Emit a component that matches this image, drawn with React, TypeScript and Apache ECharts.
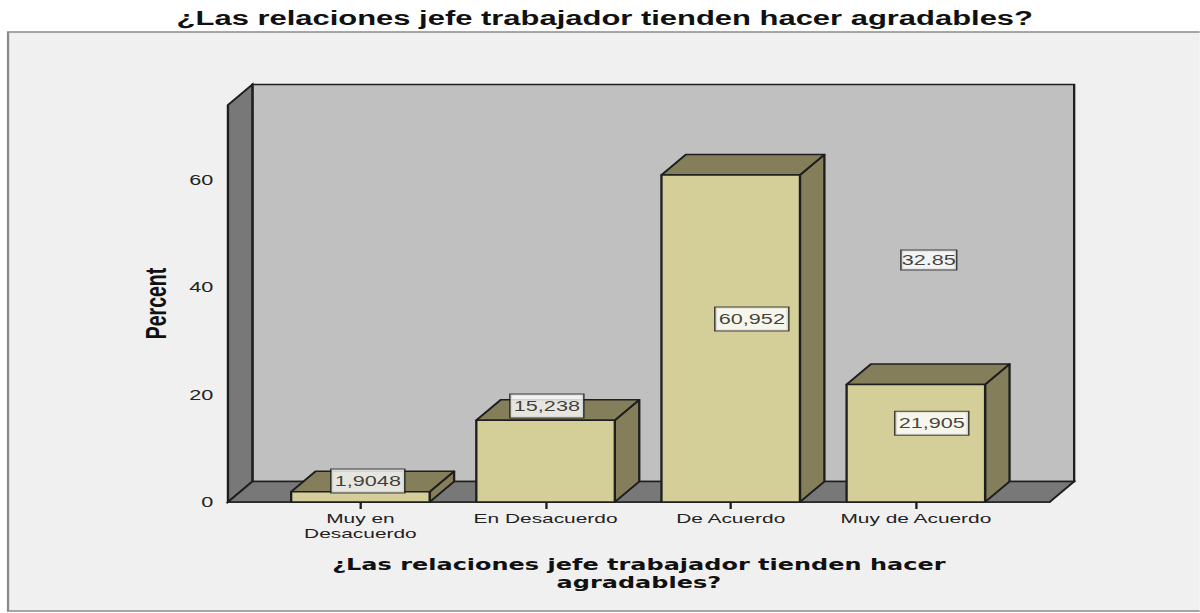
import React, { useEffect, useRef } from 'react';
import * as echarts from 'echarts';

// ---- data ----
const categories = ['Muy en\nDesacuerdo', 'En Desacuerdo', 'De Acuerdo', 'Muy de Acuerdo'];
const percents = [1.9048, 15.238, 60.952, 21.905];
// where SPSS placed each value box (category index, percent)
const labelX = [0.04, 1.007, 2.114, 3.086];
const labelY = [3.9, 17.9, 34.1, 14.7];
const strayLabelText = '32.85';
const strayLabelPos = [3.07, 45.1];
const yTicks = [0, 20, 40, 60];
const Y_MAX = 74;
const titleText = '¿Las relaciones jefe trabajador tienden hacer agradables?';
const xAxisTitle = '¿Las relaciones jefe trabajador tienden hacer\nagradables?';
const yAxisTitle = 'Percent';

// ---- layout / style ----
const S = 1.548; // the reference is stretched horizontally
const W = 775;
const H = 613;
const X_MIN = -0.7155;
const X_MAX = 3.723;
const BAR_W = 0.748;
const DX = 15.8;
const DY = -20.5;
const FRONT = '#d4cf98';
const SIDE = '#847f5a';
const WALL = '#c0c0c0';
const DARK = '#787878';
const EDGE = '#1e1e1e';
const FONT = '"Liberation Sans", Arial, sans-serif';

const fmt = (v: number) => String(v).replace('.', ',');

export default function App() {
  const ref = useRef<HTMLDivElement>(null);
  useEffect(() => {
    if (!ref.current) return;
    const chart = echarts.init(ref.current, null, { renderer: 'svg' });
    const idx = categories.map((_, i) => i);
    const labelData: any[] = labelX.map((x, i) => ({
      value: [x, labelY[i]],
      label: { formatter: fmt(percents[i]) },
    }));
    labelData.push({ value: strayLabelPos, label: { formatter: strayLabelText, padding: [2, 0, 1, 0] } });

    chart.setOption({
      animation: false,
      backgroundColor: '#ffffff',
      grid: { left: 147.25, top: 105, width: 530.85, height: 397, containLabel: false },
      graphic: [
        {
          type: 'rect',
          z: -100,
          silent: true,
          shape: { x: 5.2, y: 32, width: 900, height: 579 },
          style: { fill: '#f0f0f0', stroke: '#8a8a8a', lineWidth: 1.5 },
        },
        {
          type: 'text',
          x: 390.7,
          y: 18,
          style: {
            text: titleText,
            font: `bold 20px ${FONT}`,
            fill: '#111',
            align: 'center',
            verticalAlign: 'middle',
            textAlign: 'center',
            textVerticalAlign: 'middle',
          },
        },
      ],
      xAxis: {
        type: 'value',
        min: X_MIN,
        max: X_MAX,
        splitLine: { show: false },
        axisLine: { show: true, lineStyle: { color: EDGE, width: 1.5 } },
        axisTick: { show: true, customValues: idx, length: 7, lineStyle: { color: EDGE, width: 1.5 } },
        axisLabel: {
          customValues: idx,
          formatter: (v: number) => categories[Math.round(v)],
          fontFamily: FONT,
          fontSize: 13.5,
          lineHeight: 15,
          color: '#222',
          margin: 9,
        },
        name: xAxisTitle,
        nameLocation: 'middle',
        nameGap: 54,
        nameTextStyle: {
          fontFamily: '"DejaVu Sans", sans-serif',
          fontWeight: 'bold',
          fontSize: 15.5,
          lineHeight: 18,
          color: '#111',
        },
      },
      yAxis: {
        type: 'value',
        min: 0,
        max: Y_MAX,
        splitLine: { show: false },
        axisLine: { show: true, lineStyle: { color: EDGE, width: 1.5 } },
        axisTick: { show: true, customValues: yTicks, length: 8.4, lineStyle: { color: EDGE, width: 1.5 } },
        axisLabel: { customValues: yTicks, fontFamily: FONT, fontSize: 14, color: '#222', margin: 9.5 },
        name: yAxisTitle,
        nameLocation: 'middle',
        nameRotate: 90,
        nameGap: 37,
        nameTextStyle: { fontFamily: FONT, fontWeight: 'bold', fontSize: 19.5, color: '#111' },
      },
      series: [
        {
          type: 'custom',
          z: 1,
          silent: true,
          data: [[X_MIN, 0]],
          renderItem: (_p: any, api: any) => {
            const fb = api.coord([X_MIN, 0]);
            const ft = api.coord([X_MIN, Y_MAX]);
            const fr = api.coord([X_MAX, 0]);
            const bl = [fb[0] + DX, fb[1] + DY];
            const bt = [ft[0] + DX, ft[1] + DY];
            const br = [fr[0] + DX, fr[1] + DY];
            return {
              type: 'group',
              children: [
                {
                  type: 'rect',
                  shape: { x: bt[0], y: bt[1], width: br[0] - bt[0], height: br[1] - bt[1] },
                  style: { fill: WALL, stroke: EDGE, lineWidth: 1.5 },
                },
                { type: 'polygon', shape: { points: [fb, ft, bt, bl] }, style: { fill: DARK, stroke: EDGE, lineWidth: 1.5 } },
                { type: 'polygon', shape: { points: [fb, bl, br, fr] }, style: { fill: DARK, stroke: EDGE, lineWidth: 1.5 } },
              ],
            };
          },
        },
        {
          type: 'custom',
          z: 2,
          data: percents.map((v, i) => [i, v]),
          renderItem: (_p: any, api: any) => {
            const i = api.value(0);
            const v = api.value(1);
            const tl = api.coord([i - BAR_W / 2, v]);
            const brc = api.coord([i + BAR_W / 2, 0]);
            const x0 = tl[0];
            const x1 = brc[0];
            const yT = tl[1];
            const yB = brc[1];
            const st = (fill: string) => ({ fill, stroke: EDGE, lineWidth: 1.5, lineJoin: 'round' });
            return {
              type: 'group',
              children: [
                {
                  type: 'polygon',
                  shape: { points: [[x1, yT], [x1 + DX, yT + DY], [x1 + DX, yB + DY], [x1, yB]] },
                  style: st(SIDE),
                },
                {
                  type: 'polygon',
                  shape: { points: [[x0, yT], [x0 + DX, yT + DY], [x1 + DX, yT + DY], [x1, yT]] },
                  style: st(SIDE),
                },
                { type: 'rect', shape: { x: x0, y: yT, width: x1 - x0, height: yB - yT }, style: st(FRONT) },
              ],
            };
          },
        },
        {
          type: 'scatter',
          z: 5,
          symbolSize: 1,
          itemStyle: { color: 'rgba(0,0,0,0)' },
          silent: true,
          data: labelData,
          label: {
            show: true,
            position: 'inside',
            fontFamily: FONT,
            fontSize: 14,
            lineHeight: 16,
            color: '#111',
            backgroundColor: '#ffffff',
            borderColor: EDGE,
            borderWidth: 1,
            padding: [4, 2, 3, 2],
          },
        },
      ],
    });
    return () => chart.dispose();
  }, []);

  return (
    <div style={{ position: 'absolute', left: 0, top: 0, width: 1200, height: H, background: '#fff', overflow: 'hidden' }}>
      <div
        ref={ref}
        style={{ width: W, height: H, transform: `scaleX(${S})`, transformOrigin: '0 0' }}
      />
    </div>
  );
}
